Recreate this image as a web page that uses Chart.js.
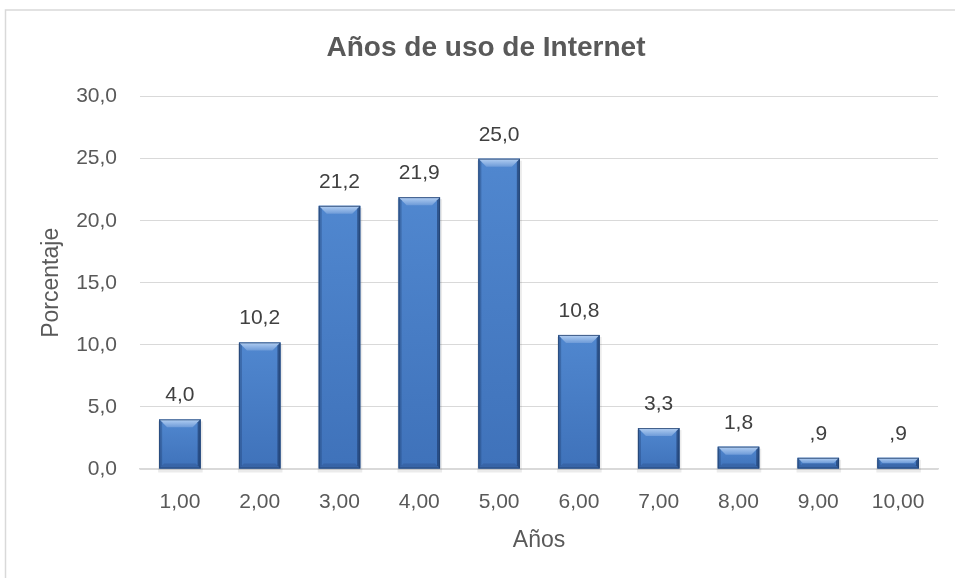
<!DOCTYPE html>
<html>
<head>
<meta charset="utf-8">
<script src="https://cdn.jsdelivr.net/npm/chart.js@4.4.1/dist/chart.umd.min.js"></script>
<style>
  html, body { margin: 0; padding: 0; background: #fff; }
  #wrap { width: 955px; height: 578px; position: relative; }
</style>
</head>
<body>
<div id="wrap"><canvas id="chart"></canvas></div>
<script>
const categories = ['1,00', '2,00', '3,00', '4,00', '5,00', '6,00', '7,00', '8,00', '9,00', '10,00'];
const percentages = [4.0, 10.2, 21.2, 21.9, 25.0, 10.8, 3.3, 1.8, 0.9, 0.9];
const yMax = 30;
const yStep = 5;

const FONT = "'Liberation Sans', Arial, sans-serif";
const GREY = '#595959';

// 25.0 -> "25,0", 0.9 -> ",9"
function fmt(v, dropZero) {
  let s = v.toFixed(1).replace('.', ',');
  if (dropZero && v > 0 && v < 1) s = s.slice(1);
  return s;
}

function poly(ctx, pts, fill) {
  ctx.beginPath();
  ctx.moveTo(pts[0][0], pts[0][1]);
  for (let i = 1; i < pts.length; i++) ctx.lineTo(pts[i][0], pts[i][1]);
  ctx.closePath();
  ctx.fillStyle = fill;
  ctx.fill();
}

// marco del gráfico
const framePlugin = {
  id: 'frame',
  beforeDraw(chart) {
    const ctx = chart.ctx;
    ctx.save();
    ctx.strokeStyle = '#d9d9d9';
    ctx.lineWidth = 1.5;
    ctx.strokeRect(5.5, 10, chart.width + 10, chart.height + 10);
    ctx.restore();
  }
};

// barras con bisel y etiquetas de datos
const bevelPlugin = {
  id: 'bevel',
  afterDatasetsDraw(chart) {
    const ctx = chart.ctx;
    const meta = chart.getDatasetMeta(0);
    meta.data.forEach((bar, i) => {
      const { x, y, base, width } = bar.getProps(['x', 'y', 'base', 'width'], true);
      const l = x - width / 2, r = x + width / 2, t = y, b = base;
      const h = b - t;
      const e = Math.min(8, h / 2);
      const s = Math.min(3, h / 2);
      const eb = Math.min(5, h / 2);
      ctx.save();
      // sombra
      ctx.fillStyle = 'rgba(0,0,0,0.08)';
      ctx.fillRect(l - 1, t + 2, width + 3, h + 2);
      // cuerpo
      let g = ctx.createLinearGradient(0, t, 0, b);
      g.addColorStop(0, '#5087cf');
      g.addColorStop(1, '#3f72ba');
      ctx.fillStyle = g;
      ctx.fillRect(l, t, width, h);
      // bisel superior
      g = ctx.createLinearGradient(0, t, 0, t + e);
      g.addColorStop(0, '#b4d0f3');
      g.addColorStop(1, '#6e9bd8');
      poly(ctx, [[l, t], [r, t], [r - e, t + e], [l + e, t + e]], g);
      // bisel inferior
      poly(ctx, [[l, b], [l + eb, b - eb], [r - eb, b - eb], [r, b]], 'rgba(30,60,110,0.25)');
      // bisel izquierdo
      poly(ctx, [[l, t], [l + s, t + s], [l + s, b - s], [l, b]], 'rgba(30,60,110,0.35)');
      // bisel derecho
      poly(ctx, [[r, t], [r - s, t + s], [r - s, b - s], [r, b]], 'rgba(20,45,90,0.55)');
      // borde
      ctx.strokeStyle = 'rgba(35,65,110,0.8)';
      ctx.lineWidth = 1;
      ctx.strokeRect(l + 0.5, t + 0.5, width - 1, h - 1);
      // etiqueta
      ctx.fillStyle = '#404040';
      ctx.font = '21px ' + FONT;
      ctx.textAlign = 'center';
      ctx.textBaseline = 'alphabetic';
      ctx.fillText(fmt(percentages[i], true), x, t - 18);
      ctx.restore();
    });
  }
};

new Chart(document.getElementById('chart'), {
  type: 'bar',
  data: {
    labels: categories,
    datasets: [{
      label: 'Porcentaje',
      data: percentages,
      backgroundColor: '#4a7ec4',
      borderWidth: 0,
      barPercentage: 0.52,
      categoryPercentage: 1.0
    }]
  },
  options: {
    responsive: true,
    maintainAspectRatio: false,
    animation: false,
    layout: { padding: { left: 34, right: 17, top: 0, bottom: 20 } },
    plugins: {
      legend: { display: false },
      tooltip: { enabled: false },
      title: {
        display: true,
        text: 'Años de uso de Internet',
        color: GREY,
        font: { family: FONT, size: 28, weight: 'bold' },
        padding: { top: 31, bottom: 32 }
      }
    },
    scales: {
      x: {
        grid: { display: false, drawTicks: false },
        border: { display: true, color: '#d9d9d9', width: 1.5 },
        ticks: {
          color: GREY,
          font: { family: FONT, size: 21 },
          padding: 21,
          maxRotation: 0,
          autoSkip: false
        },
        title: {
          display: true,
          text: 'Años',
          color: GREY,
          font: { family: FONT, size: 23 }
        },
        afterFit(scale) { scale.height = 89; }
      },
      y: {
        min: 0,
        max: yMax,
        grid: { color: '#d9d9d9', lineWidth: 1, drawTicks: false },
        border: { display: false },
        ticks: {
          stepSize: yStep,
          color: GREY,
          font: { family: FONT, size: 21 },
          padding: 23,
          callback: v => fmt(v, false)
        },
        title: {
          display: true,
          text: 'Porcentaje',
          color: GREY,
          font: { family: FONT, size: 23 }
        },
        afterFit(scale) { scale.width = 106; }
      }
    }
  },
  plugins: [framePlugin, bevelPlugin]
});
</script>
</body>
</html>
